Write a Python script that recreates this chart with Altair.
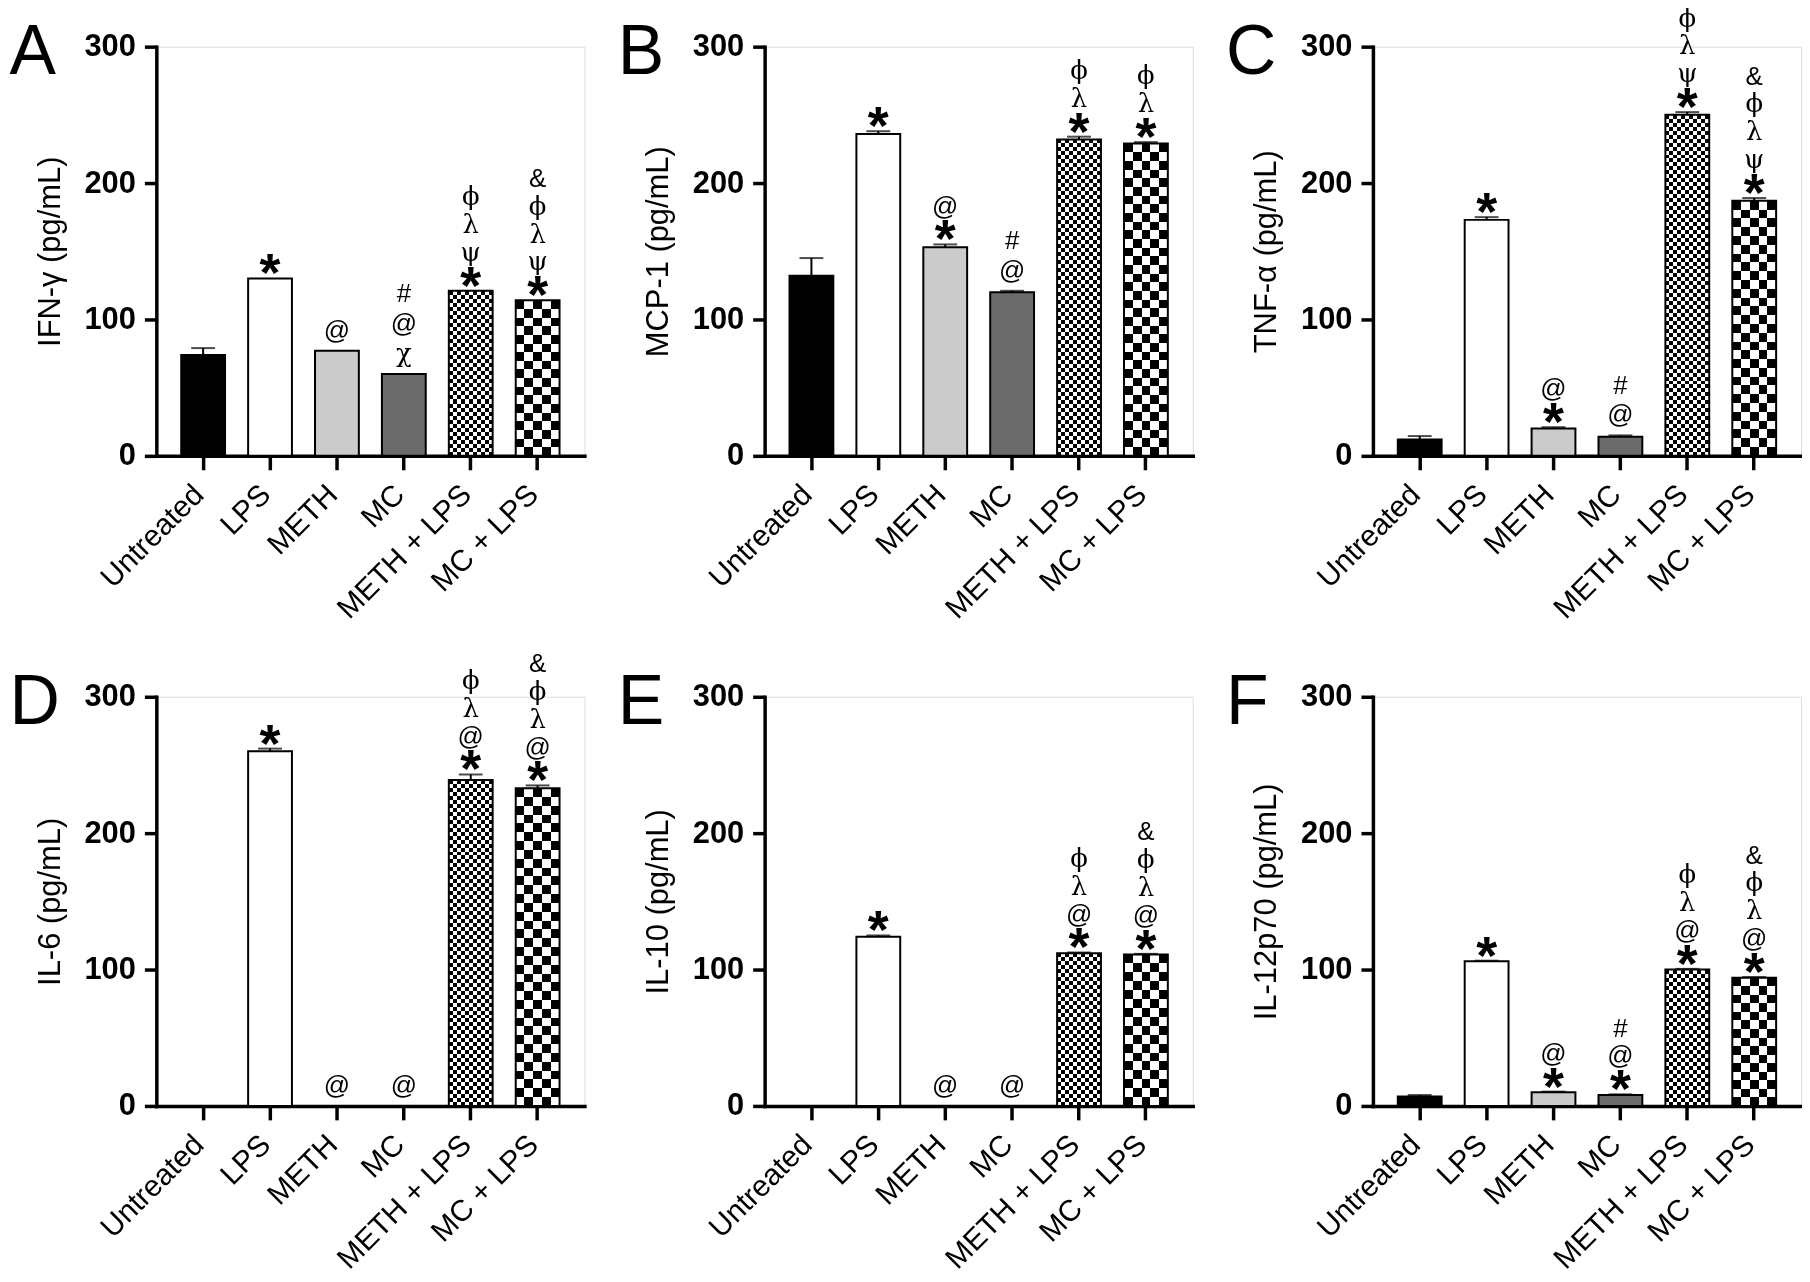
import altair as alt
import pandas as pd

# ---------------- data ----------------
categories = ["Untreated", "LPS", "METH", "MC", "METH + LPS", "MC + LPS"]
bar_colors = ["#000000", "#ffffff", "#cbcbcb", "#6b6b6b", "#ffffff", "#ffffff"]
checker_cats = {"METH + LPS": 4.0, "MC + LPS": 8.8}  # checker square size (px)

letters = ["A", "B", "C", "D", "E", "F"]
y_titles = ["IFN-γ (pg/mL)", "MCP-1 (pg/mL)", "TNF-α (pg/mL)",
            "IL-6 (pg/mL)", "IL-10 (pg/mL)", "IL-12p70 (pg/mL)"]

ifn_mean = [74, 130, 77, 60, 121, 114]
ifn_err = [5, 0, 0, 0, 0, 0]
ifn_marks = ["", "*", "@", "χ@#", "*ψλϕ", "*ψλϕ&"]

mcp_mean = [132, 236, 153, 120, 232, 229]
mcp_err = [13, 2, 2, 1, 2, 1]
mcp_marks = ["", "*", "*@", "@#", "*λϕ", "*λϕ"]

tnf_mean = [12, 173, 20, 14, 250, 187]
tnf_err = [2.5, 2, 1, 1, 2, 2]
tnf_marks = ["", "*", "*@", "@#", "*ψλϕ", "*ψλϕ&"]

il6_mean = [0, 260, 0, 0, 239, 233]
il6_err = [0, 2, 0, 0, 4, 2]
il6_marks = ["", "*", "@", "@", "*@λϕ", "*@λϕ&"]

il10_mean = [0, 124, 0, 0, 112, 111]
il10_err = [0, 1, 0, 0, 0.5, 0.5]
il10_marks = ["", "*", "@", "@", "*@λϕ", "*@λϕ&"]

il12_mean = [7, 106, 10, 8, 100, 94]
il12_err = [1, 0.5, 0.5, 0.5, 0.5, 0.5]
il12_marks = ["", "*", "*@", "*@#", "*@λϕ", "*@λϕ&"]

panels = [
    (ifn_mean, ifn_err, ifn_marks),
    (mcp_mean, mcp_err, mcp_marks),
    (tnf_mean, tnf_err, tnf_marks),
    (il6_mean, il6_err, il6_marks),
    (il10_mean, il10_err, il10_marks),
    (il12_mean, il12_err, il12_marks),
]

W, H = 430, 411
YMAX = 300
STAR_FS = 54
GREEK = set("χψλϕ")
STYLES = {
    "star": dict(font="Liberation Sans", fontWeight="bold", fontSize=STAR_FS,
                 baseline="alphabetic"),
    "sans": dict(font="Liberation Sans", fontWeight="normal", fontSize=26,
                 baseline="middle"),
    "greek": dict(font="DejaVu Serif", fontWeight="normal", fontSize=26,
                  baseline="middle"),
}


def stripes(n, vertical_bands):
    stops = []
    for i in range(n):
        c = "#000000" if i % 2 == 0 else "#ffffff"
        stops.append({"offset": i / n, "color": c})
        stops.append({"offset": (i + 1) / n, "color": c})
    g = {"gradient": "linear", "x1": 0, "y1": 0, "stops": stops}
    if vertical_bands:
        g.update({"x2": 1, "y2": 0})
    else:
        g.update({"x2": 0, "y2": 1})
    return g


def line_offset(s, k):
    """pixel offset (downwards) of the k-th stacked symbol above a bar"""
    if s[k] == "*":
        return round(-13 + 0.48 * STAR_FS)
    if s[:1] == "*":
        return -38 - 28 * (k - 1)
    return -20 - 30 * k


def panel(idx):
    means, errs, marks = panels[idx]
    letter, ytitle = letters[idx], y_titles[idx]
    df = pd.DataFrame({"category": categories, "mean": means, "err": errs,
                       "color": bar_colors})
    df["top"] = df["mean"] + df["err"]

    xenc = alt.X("category:N", title=letter,
                 scale=alt.Scale(domain=categories, paddingInner=0.345,
                                 paddingOuter=0.372))

    def yenc(field):
        return alt.Y(field, title=ytitle,
                     scale=alt.Scale(domain=[0, YMAX], nice=False),
                     axis=alt.Axis(values=[0, 100, 200, 300]))

    base = alt.Chart(df)
    layers = []
    layers.append(
        base.transform_filter(
            ~alt.FieldOneOfPredicate(field="category", oneOf=list(checker_cats))
        ).mark_bar(strokeWidth=0).encode(
            x=xenc, y=yenc("mean:Q"), fill=alt.Fill("color:N", scale=None))
    )
    bar_w = W / (6 - 0.345 + 2 * 0.372) * (1 - 0.345)
    for cat, sq in checker_cats.items():
        val = means[categories.index(cat)]
        ncol = max(1, round(bar_w / sq))
        nrow = max(1, round(val / YMAX * H / sq))
        sub = base.transform_filter(alt.datum.category == cat)
        layers.append(sub.mark_bar(fill=stripes(ncol, True), strokeWidth=0)
                      .encode(x=xenc, y=yenc("mean:Q")))
        layers.append(sub.mark_bar(fill=stripes(nrow, False), strokeWidth=0,
                                   blend="difference")
                      .encode(x=xenc, y=yenc("mean:Q")))
    layers.append(base.mark_bar(fillOpacity=0, stroke="#000000", strokeWidth=2)
                  .encode(x=xenc, y=yenc("mean:Q")))
    eb = base.transform_filter(alt.datum.err > 0)
    layers.append(eb.mark_rule(color="#000000", strokeWidth=2)
                  .encode(x=xenc, y=yenc("mean:Q"), y2="top:Q"))
    layers.append(eb.mark_tick(color="#000000", orient="horizontal", size=24,
                               thickness=2)
                  .encode(x=xenc, y=yenc("top:Q")))

    rows = []
    for cat, top, s in zip(categories, df["top"], marks):
        for k, ch in enumerate(s):
            kind = "star" if ch == "*" else ("greek" if ch in GREEK else "sans")
            rows.append({"category": cat, "top": top, "sym": ch, "kind": kind,
                         "off": line_offset(s, k)})
    ann = pd.DataFrame(rows)
    at = alt.Chart(ann)
    for (kind, off), _ in ann.groupby(["kind", "off"]):
        layers.append(
            at.transform_filter((alt.datum.kind == kind) & (alt.datum.off == int(off)))
            .mark_text(align="center", color="#000000", dy=int(off), **STYLES[kind])
            .encode(x=xenc, y=yenc("top:Q"), text="sym:N")
        )
    return alt.layer(*layers).properties(width=W, height=H)


chart = alt.concat(
    *[panel(i) for i in range(6)], columns=3,
    spacing={"row": 242, "column": 181}, bounds="flush"
).properties(
    padding={"left": 0, "top": -6, "right": 0, "bottom": 0}
).configure_view(stroke=None).configure(
    font="Liberation Sans", background="#ffffff"
).configure_axis(
    domainColor="#000000", tickColor="#000000", labelColor="#000000",
    titleColor="#000000", domainWidth=3.5, tickWidth=3.5, grid=False,
    domainCap="square"
).configure_axisY(
    labelFont="Liberation Sans", labelFontSize=31, labelFontWeight="bold",
    labelPadding=9, tickSize=12, titleFont="Liberation Sans", titleFontSize=31,
    titleFontWeight="normal", titlePadding=18
).configure_axisX(
    labelFont="Liberation Sans", labelFontSize=30, labelAngle=-45,
    labelAlign="right", labelBaseline="middle", labelPadding=20, labelOffset=-4,
    tickSize=14,
    titleX=-148, titleY=-(H - 27), titleAngle=0, titleAlign="left",
    titleBaseline="alphabetic", titleFontSize=70, titleFontWeight="normal",
    titleFont="Liberation Sans"
)

chart.save("out.html", embed_options={"renderer": "svg", "actions": False})
